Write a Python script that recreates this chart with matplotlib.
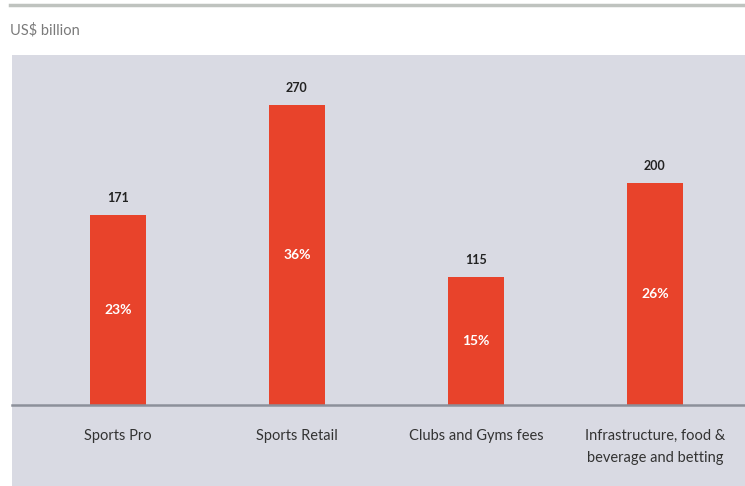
import matplotlib.pyplot as plt
from matplotlib.patches import Rectangle
from matplotlib.lines import Line2D

# Revenue by segment, US$ billion, and share of the total
categories = ["Sports Pro", "Sports Retail", "Clubs and Gyms fees",
              "Infrastructure, food &\nbeverage and betting"]
values = [171, 270, 115, 200]
shares = ["23%", "36%", "15%", "26%"]

bar_color = "#e8432b"
panel_color = "#d9dae3"

plt.rcParams["font.family"] = ["Lato", "DejaVu Sans"]

W, H = 745, 486
fig = plt.figure(figsize=(W / 100, H / 100), dpi=100)
fig.patch.set_facecolor("white")

# grey rule along the top and the unit caption
fig.add_artist(Line2D([10 / W, 1], [1 - 5 / H, 1 - 5 / H], color="#bfc3bf", lw=2.5))
fig.text(10 / W, 1 - 30 / H, "US$ billion", fontsize=10.5, color="#7a7a7a", va="center", ha="left")

# shaded panel behind the chart
fig.add_artist(Rectangle((12 / W, 0), 1 - 12 / W, 1 - 55 / H,
                         transform=fig.transFigure, facecolor=panel_color,
                         edgecolor="none", zorder=0))

ax = fig.add_axes([12 / W, 81 / H, 733 / W, 350 / H])
ax.set_facecolor("none")
x = range(len(categories))
bars = ax.bar(x, values, width=0.31, color=bar_color, zorder=2)

for b, v, s in zip(bars, values, shares):
    cx = b.get_x() + b.get_width() / 2
    ax.text(cx, v + 10, str(v), ha="center", va="bottom", fontsize=9,
            fontweight="bold", color="#222222")
    ax.text(cx, v / 2, s, ha="center", va="center", fontsize=10,
            fontweight="bold", color="white")

ax.set_xlim(-0.592, 3.503)
ax.set_ylim(0, 315)
ax.set_xticks(list(x))
ax.set_xticklabels(categories, fontsize=10.5, color="#333333", linespacing=1.75, va="top")
ax.tick_params(axis="x", length=0, pad=17)
ax.set_yticks([])
for side in ["top", "right", "left"]:
    ax.spines[side].set_visible(False)
ax.spines["bottom"].set_color("#8c909a")
ax.spines["bottom"].set_linewidth(1.8)

fig.savefig("out.png", dpi=100)
